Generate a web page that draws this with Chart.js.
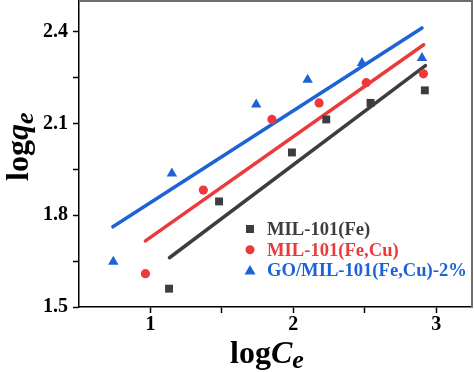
<!DOCTYPE html>
<html>
<head>
<meta charset="utf-8">
<script src="https://cdn.jsdelivr.net/npm/chart.js@4.4.0/dist/chart.umd.min.js"></script>
<style>
  html, body { margin: 0; padding: 0; background: #fff; }
  #wrap { width: 474px; height: 372px; }
</style>
</head>
<body>
<div id="wrap"><canvas id="grafico" width="474" height="372"></canvas></div>
<script>
// datos
const nombres = ["MIL-101(Fe)", "MIL-101(Fe,Cu)", "GO/MIL-101(Fe,Cu)-2%"];

const feX = [1.13, 1.48, 1.99, 2.23, 2.54, 2.92];
const feY = [1.56, 1.845, 2.005, 2.113, 2.167, 2.208];
const cuX = [0.965, 1.37, 1.85, 2.18, 2.51, 2.91];
const cuY = [1.609, 1.882, 2.113, 2.167, 2.233, 2.262];
const goX = [0.74, 1.15, 1.74, 2.10, 2.48, 2.90];
const goY = [1.648, 1.936, 2.162, 2.243, 2.297, 2.314];

// rectas de ajuste (extremos)
const feFitX = [1.133, 2.924];
const feFitY = [1.661, 2.289];
const cuFitX = [0.965, 2.912];
const cuFitY = [1.716, 2.357];
const goFitX = [0.737, 2.90];
const goFitY = [1.762, 2.412];

const ticksX = [1, 1.5, 2, 2.5, 3];
const labelsX = [1, 2, 3];
const ticksY = [1.5, 1.65, 1.8, 1.95, 2.1, 2.25, 2.4];
const labelsY = [1.5, 1.8, 2.1, 2.4];

const gris = "#3d3d3d";
const rojo = "#ec3a3c";
const azul = "#1c63d6";
const colores = [gris, rojo, azul];
const formas = ["rect", "circle", "triangle"];

function puntos(xs, ys) {
  return xs.map((x, i) => ({ x: x, y: ys[i] }));
}

function linea(xs, ys, color) {
  return {
    data: puntos(xs, ys),
    showLine: true,
    borderColor: color,
    borderWidth: 3.5,
    borderCapStyle: "round",
    pointRadius: 0,
    fill: false
  };
}

function marcas(xs, ys, color, forma, r) {
  return {
    data: puntos(xs, ys),
    showLine: false,
    backgroundColor: color,
    borderColor: color,
    borderWidth: 0,
    pointStyle: forma,
    pointRadius: r
  };
}

const fuenteTicks = { family: "Liberation Serif", size: 20, weight: "bold" };

// sin relleno extra alrededor de los ejes
function sinPadding(s) {
  s.paddingTop = 0;
  s.paddingBottom = 0;
  s.paddingLeft = 0;
  s.paddingRight = 0;
}

// dibuja texto con partes (normal / cursiva / subindice)
function textoRico(ctx, partes, x, y) {
  let cx = x;
  partes.forEach(p => {
    ctx.font = p.f;
    ctx.fillText(p.t, cx, y + (p.dy || 0));
    cx += ctx.measureText(p.t).width;
  });
}

const extras = {
  id: "extras",
  afterDraw(chart) {
    const ctx = chart.ctx;
    const a = chart.chartArea;
    ctx.save();

    // marco superior y derecho
    ctx.strokeStyle = "#6e6e6e";
    ctx.lineWidth = 2;
    ctx.beginPath();
    ctx.moveTo(a.left, a.top);
    ctx.lineTo(a.right, a.top);
    ctx.lineTo(a.right, a.bottom);
    ctx.stroke();

    // leyenda
    const lx = 250, ly = 229, paso = 20.8;
    ctx.textBaseline = "middle";
    nombres.forEach((n, i) => {
      const y = ly + i * paso;
      ctx.fillStyle = colores[i];
      ctx.beginPath();
      if (formas[i] === "rect") {
        ctx.rect(lx - 4, y - 4, 8, 8);
      } else if (formas[i] === "circle") {
        ctx.arc(lx, y, 4.5, 0, Math.PI * 2);
      } else {
        ctx.moveTo(lx, y - 5.5);
        ctx.lineTo(lx + 5.5, y + 4);
        ctx.lineTo(lx - 5.5, y + 4);
        ctx.closePath();
      }
      ctx.fill();
      ctx.font = "bold 18.6px 'Liberation Serif'";
      ctx.fillText(n, lx + 17, y + 1);
    });

    // titulos de ejes
    ctx.fillStyle = "#000";
    ctx.textBaseline = "alphabetic";
    textoRico(ctx, [
      { t: "log", f: "bold 32px 'Liberation Serif'" },
      { t: "C", f: "italic bold 32px 'Liberation Serif'" },
      { t: "e", f: "italic bold 26px 'Liberation Serif'", dy: 5 }
    ], 230, 363);

    ctx.translate(28, 181);
    ctx.rotate(-Math.PI / 2);
    textoRico(ctx, [
      { t: "log", f: "bold 32px 'Liberation Serif'" },
      { t: "q", f: "italic bold 32px 'Liberation Serif'" },
      { t: "e", f: "italic bold 26px 'Liberation Serif'", dy: 5 }
    ], 0, 0);
    ctx.restore();
  }
};

new Chart(document.getElementById("grafico"), {
  type: "scatter",
  data: {
    datasets: [
      marcas(feX, feY, gris, "rect", 5.6),
      marcas(cuX, cuY, rojo, "circle", 4.6),
      marcas(goX, goY, azul, "triangle", 6),
      linea(feFitX, feFitY, gris),
      linea(cuFitX, cuFitY, rojo),
      linea(goFitX, goFitY, azul)
    ]
  },
  options: {
    responsive: false,
    animation: false,
    layout: { autoPadding: false, padding: { top: 1, right: 2, left: 0, bottom: 0 } },
    plugins: {
      legend: { display: false },
      tooltip: { enabled: false }
    },
    scales: {
      x: {
        type: "linear",
        min: 0.5,
        max: 3.25,
        afterFit: s => { s.height = 65; sinPadding(s); },
        afterBuildTicks: s => { s.ticks = ticksX.map(v => ({ value: v })); },
        grid: { drawOnChartArea: false, tickLength: 6, tickColor: "#000", tickWidth: 1.5 },
        border: { color: "#000", width: 1.5 },
        ticks: {
          color: "#000",
          font: fuenteTicks,
          padding: 0,
          maxRotation: 0,
          autoSkip: false,
          callback: v => labelsX.includes(v) ? String(v) : ""
        }
      },
      y: {
        type: "linear",
        min: 1.5,
        max: 2.5,
        afterFit: s => { s.width = 79; sinPadding(s); },
        afterBuildTicks: s => { s.ticks = ticksY.map(v => ({ value: v })); },
        grid: { drawOnChartArea: false, tickLength: 6, tickColor: "#000", tickWidth: 1.5 },
        border: { color: "#000", width: 1.5 },
        ticks: {
          color: "#000",
          font: fuenteTicks,
          padding: 5,
          autoSkip: false,
          callback: v => labelsY.includes(v) ? v.toFixed(1) : ""
        }
      }
    }
  },
  plugins: [extras]
});
</script>
</body>
</html>
